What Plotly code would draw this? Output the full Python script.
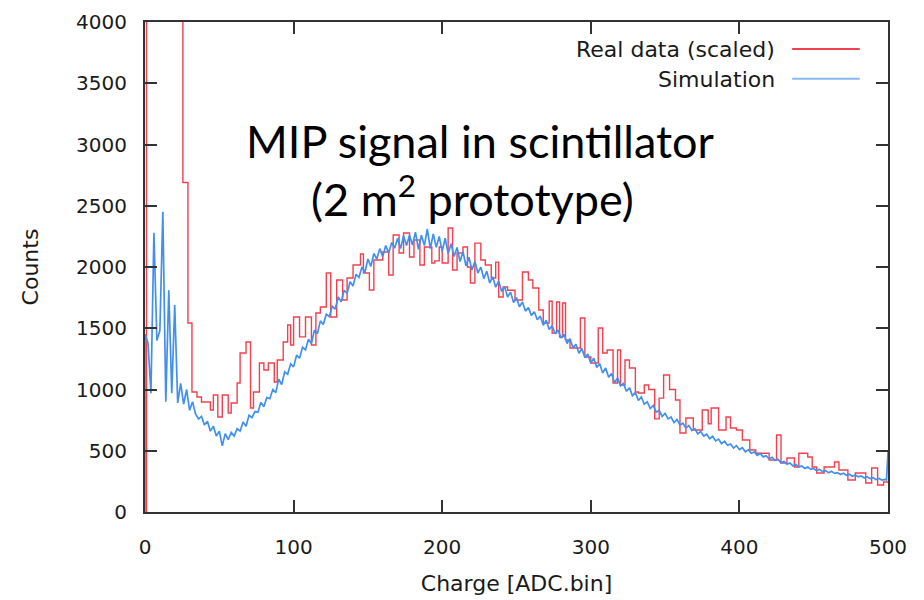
import plotly.graph_objects as go

# ---------------- data ----------------
# Real data (scaled): step histogram, left bin edges and counts
red_x = [1, 1, 25.5, 28.9, 31.6, 35, 38, 44, 46, 49, 52, 56, 58, 62, 64, 68, 71, 73, 77, 80,
         83, 87, 89, 93, 96, 98, 100, 104, 108, 112, 115, 118, 122, 125, 129, 133, 136, 140, 145, 147,
         151, 154, 160, 164, 167, 171, 174, 178, 181, 185, 188, 193, 195, 198, 200, 204, 207, 210, 214, 217,
         219, 222, 226, 229, 233, 236, 238, 241, 244, 249, 254, 258, 261, 265, 268, 272, 274, 277, 279, 281,
         283, 286, 293, 296, 300, 305, 308, 311, 315, 318, 320, 323, 326, 330, 332, 336, 339, 343, 346, 349,
         353, 357, 360, 364, 369, 375, 379, 381, 386, 391, 394, 398, 402, 407, 411, 420, 425, 428, 432, 437,
         440, 446, 449, 452, 457, 464, 467, 473, 478, 485, 489, 493, 497, 500]
red_y = [0, 9000, 2690, 1543, 980, 939, 898, 833, 955, 776, 955, 808, 890, 1053, 1298, 1388, 849, 980, 1216, 1159,
         1216, 1061, 1241, 1388, 1527, 1363, 1592, 1430, 1592, 1363, 1624, 1673, 1951, 1592, 1894, 1731, 1910, 2016, 2106, 1951,
         1812, 2057, 2122, 1935, 2261, 2114, 2278, 2082, 2220, 2016, 2163, 2033, 2050, 2163, 2033, 2318, 1976, 2114, 2163, 2000,
         1870, 2195, 2057, 2016, 1910, 2040, 1755, 1837, 1810, 1731, 1959, 1894, 1829, 1649, 1543, 1720, 1461, 1714, 1429, 1706,
         1404, 1339, 1584, 1265, 1216, 1502, 1298, 1322, 1053, 1322, 1037, 1241, 1176, 980, 971, 1037, 1000, 760, 930, 1118,
         1000, 914, 645, 767, 669, 833, 720, 849, 669, 776, 686, 669, 588, 506, 480, 424, 629, 400, 441, 367,
         480, 449, 367, 318, 367, 408, 343, 261, 318, 237, 359, 220, 245, 245]

# Simulation: sampled every 2 ADC bins
sim_vals = [
    1450, 1380, 970, 2280, 1400, 1480, 2450, 900, 1810, 970,
    1690, 890, 1050, 880, 1000, 830, 900, 800, 760, 780,
    710, 740, 660, 700, 620, 660, 540, 640, 590, 650,
    620, 680, 660, 735, 700, 790, 770, 820, 815, 895,
    860, 935, 925, 1000, 975, 1085, 1040, 1145, 1125, 1210,
    1185, 1280, 1255, 1345, 1325, 1410, 1375, 1485, 1455, 1560,
    1530, 1615, 1595, 1680, 1655, 1755, 1715, 1810, 1785, 1880,
    1845, 1940, 1915, 2000, 1955, 2065, 2005, 2110, 2065, 2150,
    2085, 2175, 2115, 2200, 2155, 2235, 2150, 2255, 2175, 2260,
    2180, 2285, 2145, 2260, 2175, 2310, 2150, 2270, 2160, 2250,
    2125, 2235, 2110, 2190, 2085, 2160, 2045, 2125, 2010, 2080,
    1975, 2045, 1950, 2000, 1905, 1965, 1870, 1920, 1835, 1885,
    1800, 1840, 1755, 1795, 1710, 1750, 1675, 1715, 1640, 1670,
    1605, 1635, 1570, 1600, 1525, 1565, 1490, 1520, 1455, 1485,
    1420, 1450, 1375, 1415, 1340, 1370, 1295, 1335, 1260, 1290,
    1215, 1255, 1180, 1210, 1135, 1175, 1100, 1130, 1055, 1095,
    1030, 1050, 985, 1015, 950, 975, 910, 940, 880, 900,
    845, 870, 815, 830, 780, 805, 760, 775, 730, 755,
    710, 725, 685, 705, 665, 680, 638, 658, 620, 635,
    598, 618, 580, 595, 558, 578, 545, 555, 522, 542,
    510, 525, 492, 508, 480, 490, 462, 478, 450, 460,
    433, 447, 420, 430, 403, 413, 390, 400, 376, 387,
    368, 375, 356, 367, 348, 355, 338, 347, 330, 338,
    320, 332, 315, 322, 306, 317, 300, 308, 292, 302,
    288, 294, 278, 288, 272, 280, 264, 274, 260, 266,
]
sim_x = [0] + list(range(0, 500, 2)) + [499, 500]
sim_y = [0] + sim_vals + [262, 490]

x_ticks = [0, 100, 200, 300, 400, 500]
y_ticks = [0, 500, 1000, 1500, 2000, 2500, 3000, 3500, 4000]

legend_labels = ["Real data (scaled)", "Simulation"]
title_lines = ["MIP signal in scintillator", "(2 m<sup>2</sup> prototype)"]

RED = "#f2404e"
BLUE = "#4190f0"
AX = "#333333"
TXT = "#1a1a1a"
FONT = "DejaVu Sans, sans-serif"

fig = go.Figure()
fig.add_trace(go.Scatter(x=red_x, y=red_y, mode="lines", line=dict(color=RED, width=1.4, shape="hv"),
                         name=legend_labels[0], showlegend=False))
fig.add_trace(go.Scatter(x=sim_x, y=sim_y, mode="lines", line=dict(color=BLUE, width=1.7),
                         name=legend_labels[1], showlegend=False))

axis_common = dict(showgrid=False, zeroline=False, showline=True, linecolor=AX, linewidth=2,
                   mirror="ticks", ticks="inside", ticklen=12, tickwidth=1.5, tickcolor=AX,
                   automargin=False, tickfont=dict(family=FONT, size=20, color=TXT))

fig.update_xaxes(range=[0, 500], tickvals=x_ticks, ticklabelstandoff=16,
                 title=dict(text="Charge [ADC.bin]", font=dict(family=FONT, size=22, color=TXT), standoff=18),
                 **axis_common)
fig.update_yaxes(range=[0, 4000], tickvals=y_ticks, ticklabelstandoff=12,
                 title=dict(text="Counts", font=dict(family=FONT, size=22, color=TXT), standoff=31),
                 **axis_common)

# legend drawn to the right of the labels, as in the reference
leg_y = [0.943, 0.882]
leg_colors = [RED, "#8ab8f2"]
for lab, yy, col in zip(legend_labels, leg_y, leg_colors):
    fig.add_annotation(xref="paper", yref="paper", x=0.851, y=yy, text=lab, showarrow=False,
                       xanchor="right", yanchor="middle", font=dict(family=FONT, size=22, color=TXT))
    fig.add_shape(type="line", xref="paper", yref="paper", x0=0.871, x1=0.962, y0=yy + 0.002, y1=yy + 0.002,
                  line=dict(color=col, width=2))

fig.add_annotation(xref="paper", yref="paper", x=0.451, y=0.757, text=title_lines[0], showarrow=False,
                   xanchor="center", yanchor="middle", font=dict(family="Lato, Open Sans, sans-serif", size=45, color="black"))
fig.add_annotation(xref="paper", yref="paper", x=0.441, y=0.645, text=title_lines[1], showarrow=False,
                   xanchor="center", yanchor="middle", font=dict(family="Lato, Open Sans, sans-serif", size=45, color="black"))

fig.update_layout(width=924, height=600, margin=dict(l=145, r=36, t=22, b=88),
                  plot_bgcolor="white", paper_bgcolor="white")

fig.write_html("out.html")
